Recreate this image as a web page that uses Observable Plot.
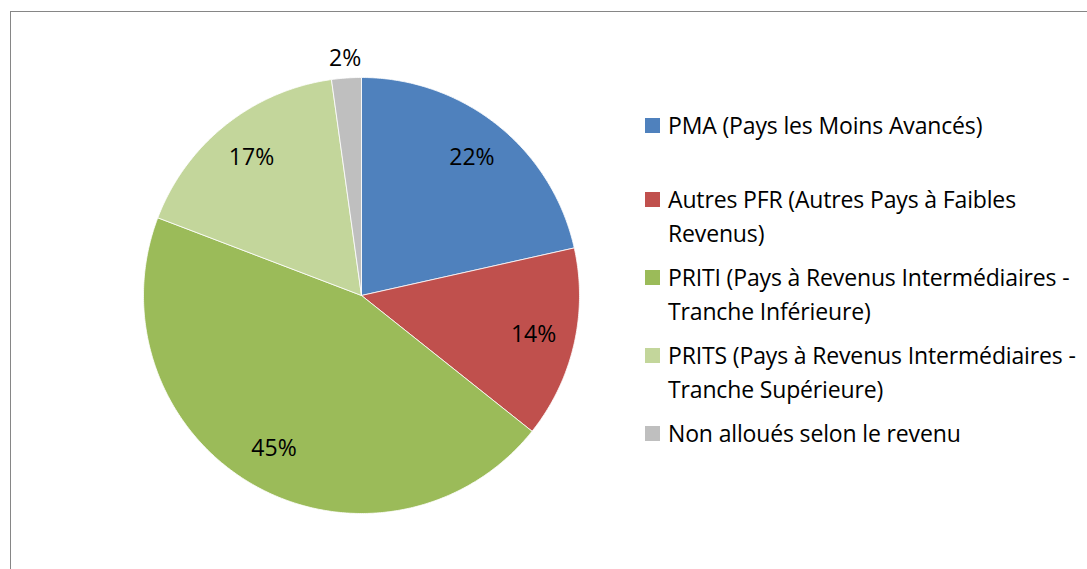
<!DOCTYPE html>
<html><head><meta charset="utf-8">
<script src="https://cdn.jsdelivr.net/npm/d3@7"></script>
<script src="https://cdn.jsdelivr.net/npm/@observablehq/plot@0.6"></script>
<style>
body{margin:0;background:#fff;font-family:"Open Sans",sans-serif;}
#wrap{position:relative;width:1087px;height:569px;overflow:hidden;background:#fff;}
#frame{position:absolute;left:10px;top:11px;width:1200px;height:700px;border:1px solid #868686;box-sizing:border-box;}
#chart{position:absolute;left:0;top:0;}
#legend{position:absolute;left:645px;top:108px;width:440px;font-size:23px;letter-spacing:-0.15px;line-height:34px;color:#000;}
.item{display:flex;align-items:flex-start;margin-bottom:10px;}
.item:first-child{margin-bottom:40px;}
.sw{width:15px;height:15px;flex:none;margin-top:10px;margin-right:8px;}
.lines div{white-space:nowrap;}
</style></head>
<body>
<div id="wrap"><div id="frame"></div><div id="chart"></div><div id="legend"></div></div>
<script>
const categories = [
  "PMA (Pays les Moins Avancés)",
  "Autres PFR (Autres Pays à Faibles Revenus)",
  "PRITI (Pays à Revenus Intermédiaires - Tranche Inférieure)",
  "PRITS (Pays à Revenus Intermédiaires - Tranche Supérieure)",
  "Non alloués selon le revenu"
];
const legendLines = [
  ["PMA (Pays les Moins Avancés)"],
  ["Autres PFR (Autres Pays à Faibles", "Revenus)"],
  ["PRITI (Pays à Revenus Intermédiaires -", "Tranche Inférieure)"],
  ["PRITS (Pays à Revenus Intermédiaires -", "Tranche Supérieure)"],
  ["Non alloués selon le revenu"]
];
const shares = [21.5, 14.2, 45.1, 17.0, 2.2];
const colors = ["#4F81BD", "#C0504D", "#9BBB59", "#C3D69B", "#BFBFBF"];

const total = d3.sum(shares);
const pts = [], labels = [];
let cum = 0;
categories.forEach((c, i) => {
  const a0 = cum / total * 2 * Math.PI;
  cum += shares[i];
  const a1 = cum / total * 2 * Math.PI;
  pts.push({cat: c, x: 0, y: 0});
  const n = Math.max(2, Math.ceil((a1 - a0) / (Math.PI / 360)));
  for (let k = 0; k <= n; k++) {
    const a = a0 + (a1 - a0) * k / n;
    pts.push({cat: c, x: Math.sin(a), y: Math.cos(a)});
  }
  pts.push({cat: c, x: 0, y: 0});
  const am = (a0 + a1) / 2;
  const r = shares[i] / total < 0.05 ? 1.09 : 0.81;
  labels.push({cat: c, x: r * Math.sin(am), y: r * Math.cos(am), text: Math.round(shares[i]) + "%"});
});

const cx = 361, cy = 295, R = 218;
const plot = Plot.plot({
  width: 1087, height: 569,
  margin: 0,
  x: {domain: [-1, 1], range: [cx - R, cx + R], axis: null},
  y: {domain: [-1, 1], range: [cy + R, cy - R], axis: null},
  color: {domain: categories, range: colors},
  style: {background: "transparent", fontFamily: "'Open Sans', sans-serif"},
  marks: [
    Plot.line(pts, {x: "x", y: "y", z: "cat", fill: "cat", stroke: "white", strokeWidth: 0.8, curve: "linear"}),
    Plot.text(labels, {x: "x", y: "y", text: "text", fontSize: 23, fill: "black"})
  ]
});
document.getElementById("chart").appendChild(plot);

const leg = document.getElementById("legend");
categories.forEach((c, i) => {
  const it = document.createElement("div"); it.className = "item";
  const sw = document.createElement("div"); sw.className = "sw"; sw.style.background = colors[i];
  const ln = document.createElement("div"); ln.className = "lines";
  legendLines[i].forEach(t => { const d = document.createElement("div"); d.textContent = t; ln.appendChild(d); });
  it.appendChild(sw); it.appendChild(ln); leg.appendChild(it);
});
</script>
</body></html>
